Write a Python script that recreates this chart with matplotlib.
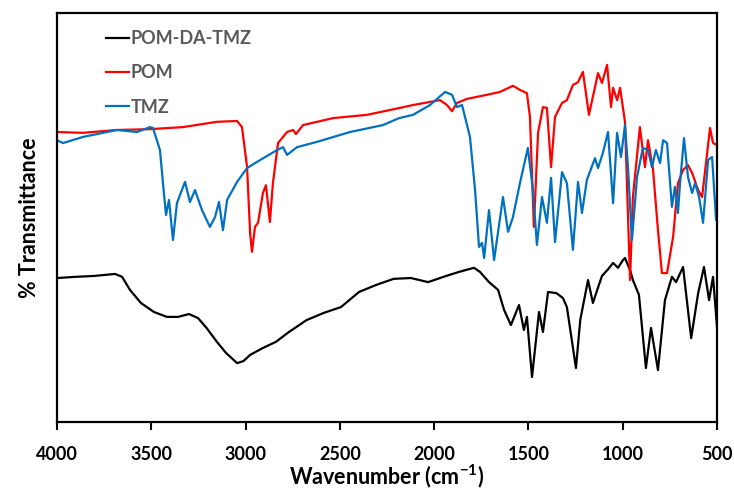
import matplotlib
matplotlib.use("Agg")
import matplotlib.pyplot as plt

plt.rcParams["font.family"] = ["Lato", "DejaVu Sans"]
plt.rcParams["mathtext.fontset"] = "custom"
plt.rcParams["mathtext.bf"] = "Lato:bold"
plt.rcParams["mathtext.rm"] = "Lato"

# POM-DA-TMZ (black)
w_blend = [4000, 3899, 3806, 3692, 3655, 3613, 3555, 3486, 3417, 3358, 3300, 3252,
           3207, 3152, 3104, 3045, 3011, 2976, 2908, 2839, 2770, 2677, 2584, 2494,
           2398, 2308, 2215, 2123, 2032, 1937, 1868, 1789, 1757, 1709, 1661, 1629,
           1593, 1550, 1524, 1508, 1481, 1444, 1423, 1396, 1351, 1317, 1296, 1248,
           1225, 1184, 1158, 1130, 1110, 1075, 1051, 1025, 1000, 988, 960, 946, 914,
           877, 850, 813, 776, 739, 717, 680, 637, 600, 569, 542, 521, 500]
t_blend = [35.2, 35.5, 35.7, 36.2, 35.5, 32.3, 29.1, 26.9, 25.7, 25.7, 26.4, 25.4,
           23.0, 19.6, 16.9, 14.4, 14.9, 16.4, 18.1, 19.6, 22.0, 24.9, 26.7, 28.1,
           31.8, 33.5, 35.0, 35.2, 34.2, 35.7, 36.7, 37.7, 36.7, 34.2, 32.3, 27.4,
           23.7, 28.6, 22.5, 25.7, 11.0, 26.9, 22.0, 31.8, 31.5, 30.3, 28.1, 13.2,
           25.0, 34.7, 29.1, 33.0, 35.7, 37.5, 38.9, 37.7, 39.5, 40.1, 37.0, 34.7, 31.1,
           13.2, 23.0, 12.7, 29.8, 35.5, 34.2, 37.9, 20.5, 31.5, 37.9, 29.8, 35.5, 23.2]

# POM (red)
w_pom = [4000, 3862, 3682, 3507, 3332, 3151, 3045, 3019, 2992, 2976, 2966, 2950,
         2934, 2908, 2892, 2871, 2855, 2828, 2780, 2748, 2733, 2695, 2536, 2356,
         2181, 2112, 1969, 1932, 1905, 1879, 1826, 1720, 1651, 1582, 1545, 1508,
         1492, 1471, 1449, 1423, 1402, 1380, 1359, 1322, 1296, 1264, 1237, 1211,
         1179, 1131, 1110, 1083, 1062, 1051, 1030, 1014, 988, 961, 946, 909, 882,
         866, 840, 813, 792, 765, 733, 707, 680, 654, 632, 600, 579, 537, 521, 500]
t_pom = [70.9, 70.7, 71.4, 71.6, 72.1, 73.4, 73.6, 72.1, 62.3, 46.2, 41.6, 47.7,
         48.7, 56.0, 57.9, 48.9, 58.4, 68.2, 70.9, 71.4, 70.4, 72.6, 74.3, 75.1,
         76.8, 77.5, 78.7, 77.5, 76.0, 78.0, 79.0, 80.0, 80.7, 82.2, 81.2, 80.4,
         74.6, 47.7, 70.7, 77.0, 76.8, 62.3, 74.6, 78.0, 78.7, 82.4, 83.1, 85.6,
         75.1, 85.3, 82.9, 87.3, 77.0, 81.7, 78.7, 81.7, 73.4, 34.7, 55.0, 72.1, 62.3,
         68.9, 62.1, 46.9, 36.4, 36.4, 45.2, 58.4, 61.6, 62.8, 60.9, 56.7, 55.0, 71.9, 68.2, 67.7]

# TMZ (blue)
w_tmz = [4000, 3968, 3862, 3682, 3576, 3507, 3491, 3454, 3438, 3422, 3406, 3385,
         3364, 3348, 3321, 3295, 3268, 3231, 3189, 3162, 3141, 3120, 3098, 3045,
         2992, 2939, 2833, 2801, 2780, 2727, 2621, 2446, 2271, 2186, 2112, 2022,
         1942, 1905, 1879, 1852, 1810, 1783, 1762, 1746, 1735, 1709, 1682, 1635,
         1608, 1582, 1545, 1503, 1476, 1455, 1428, 1402, 1380, 1359, 1322, 1296,
         1264, 1237, 1216, 1190, 1147, 1131, 1105, 1078, 1051, 1030, 1009, 988, 972,
         951, 924, 893, 866, 845, 824, 802, 786, 765, 739, 723, 707, 696, 675, 654,
         632, 616, 595, 574, 547, 526, 505, 500]
t_tmz = [68.9, 68.2, 69.7, 71.4, 70.9, 72.1, 71.9, 66.5, 58.4, 50.6, 54.3, 44.5,
         53.5, 55.5, 58.7, 53.8, 56.7, 51.8, 47.7, 50.1, 53.8, 46.9, 54.3, 58.7,
         62.1, 63.6, 66.5, 67.2, 65.3, 67.2, 68.5, 70.9, 72.6, 74.3, 75.1, 77.5,
         80.7, 80.0, 77.0, 77.5, 69.7, 56.7, 42.8, 43.8, 40.1, 51.8, 39.6, 55.0,
         46.5, 50.1, 58.4, 67.0, 56.7, 43.3, 55.0, 48.7, 59.7, 44.0, 61.1, 58.4,
         42.1, 58.7, 51.1, 59.2, 64.5, 62.1, 65.8, 70.9, 53.5, 70.7, 64.8, 72.6, 62.3,
         44.5, 59.9, 67.0, 66.5, 62.3, 66.5, 63.3, 68.9, 68.2, 52.6, 57.5, 51.1, 58.4, 69.4, 59.9,
         56.0, 58.4, 55.0, 48.7, 64.1, 64.8, 49.4, 52.0]

fig = plt.figure(figsize=(7.34, 4.95), dpi=100)
ax = fig.add_axes([57 / 734, 1 - 422 / 495, 660 / 734, 409 / 495])

ax.plot(w_blend, t_blend, color="black", linewidth=1.6, label="POM-DA-TMZ")
ax.plot(w_pom, t_pom, color="#ff0000", linewidth=1.6, label="POM")
ax.plot(w_tmz, t_tmz, color="#0070c0", linewidth=1.6, label="TMZ")

ax.set_xlim(4000, 500)
ax.set_ylim(0, 100)
ax.set_xticks([4000, 3500, 3000, 2500, 2000, 1500, 1000, 500])
ax.set_yticks([])
ax.tick_params(axis="x", direction="out", length=6, width=1.5, labelsize=13, pad=11)
for lbl in ax.get_xticklabels():
    lbl.set_fontweight("bold")
for sp in ax.spines.values():
    sp.set_linewidth(1.6)

ax.set_xlabel("Wavenumber (cm$^{\\mathbf{-1}}$)", fontsize=15.5, fontweight="bold", labelpad=0)
ax.set_ylabel("% Transmittance", fontsize=15.5, fontweight="bold", labelpad=12)

leg = ax.legend(loc="upper left", bbox_to_anchor=(0.06, 0.98), frameon=False,
                handlelength=1.3, handletextpad=0.1, labelspacing=0.95,
                prop={"weight": "bold", "size": 13}, borderpad=0)
for txt in leg.get_texts():
    txt.set_color("#595959")

fig.savefig("out.png", dpi=100)
